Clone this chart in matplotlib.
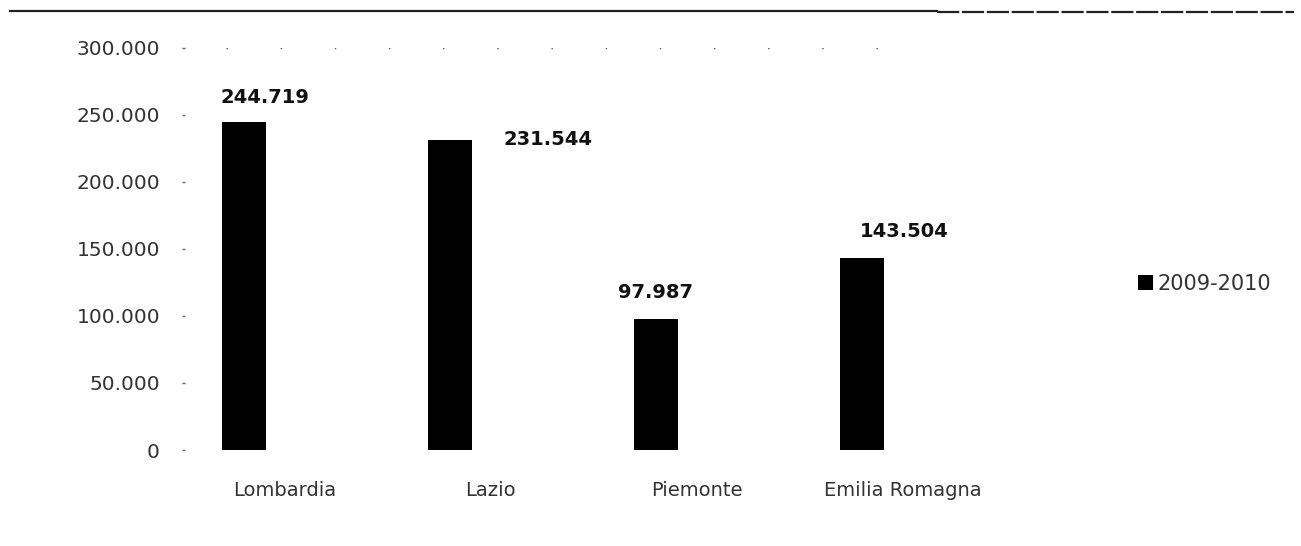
import matplotlib
matplotlib.use('Agg')
import matplotlib.pyplot as plt
from matplotlib.lines import Line2D
from matplotlib.ticker import FuncFormatter
import numpy as np

regions = ["Lombardia", "Lazio", "Piemonte", "Emilia Romagna"]
values = [244719, 231544, 97987, 143504]
series_name = "2009-2010"
yticks = [0, 50000, 100000, 150000, 200000, 250000, 300000]

# label offsets in pixels (the reference puts them a bit irregularly)
label_offsets = [(21, 25), (98, 0), (0, 26), (43, 26)]

plt.rcParams['font.family'] = ['DejaVu Sans']

fig = plt.figure(figsize=(13.01, 5.46), dpi=100)
fig.patch.set_facecolor('white')
ax = fig.add_axes([185 / 1301, 96 / 546, 825 / 1301, 402 / 546])

x = np.arange(len(regions))
bar_x = x - 0.2
bars = ax.bar(bar_x, values, width=0.214, color='black', label=series_name, zorder=3)

def it_fmt(v, pos):
    return f"{int(v):,}".replace(",", ".")

for bx, v, (dx, dy) in zip(bar_x, values, label_offsets):
    ax.annotate(it_fmt(v, None), xy=(bx, v), xytext=(dx, dy), textcoords='offset pixels',
                ha='center', va='center', fontsize=14, fontweight='bold', color='#111111')

ax.set_ylim(0, 300000)
ax.set_xlim(-0.485, 3.52)
ax.set_yticks(yticks)
ax.yaxis.set_major_formatter(FuncFormatter(it_fmt))
ax.set_xticks(x)
ax.set_xticklabels(regions)
ax.tick_params(axis='y', length=2, width=1, color='#666666', labelsize=14.5, labelcolor='#333333', pad=16)
ax.tick_params(axis='x', length=0, labelsize=14, labelcolor='#333333', pad=22)

for sp in ax.spines.values():
    sp.set_visible(False)

# faint dotted gridline at the top
ax.axhline(300000, xmin=0.05, xmax=0.9, color='#555555', lw=1, ls=(0, (1, 38)), zorder=1)

fig.legend(handles=[bars], labels=[series_name], loc='center left',
           bbox_to_anchor=(1138 / 1301, 1 - 284 / 546), frameon=False, fontsize=15,
           handlelength=0.7, handleheight=0.7, handletextpad=0.25, borderpad=0, borderaxespad=0,
           labelcolor='#333333')

# line along the top of the page
fig.add_artist(Line2D([0.008, 0.72], [1 - 11 / 546] * 2, color='#222222', lw=1.6))
fig.add_artist(Line2D([0.72, 0.995], [1 - 12 / 546] * 2, color='#222222', lw=1.6, ls=(0, (10, 1.2))))

fig.savefig('out.png', dpi=100, facecolor='white')
